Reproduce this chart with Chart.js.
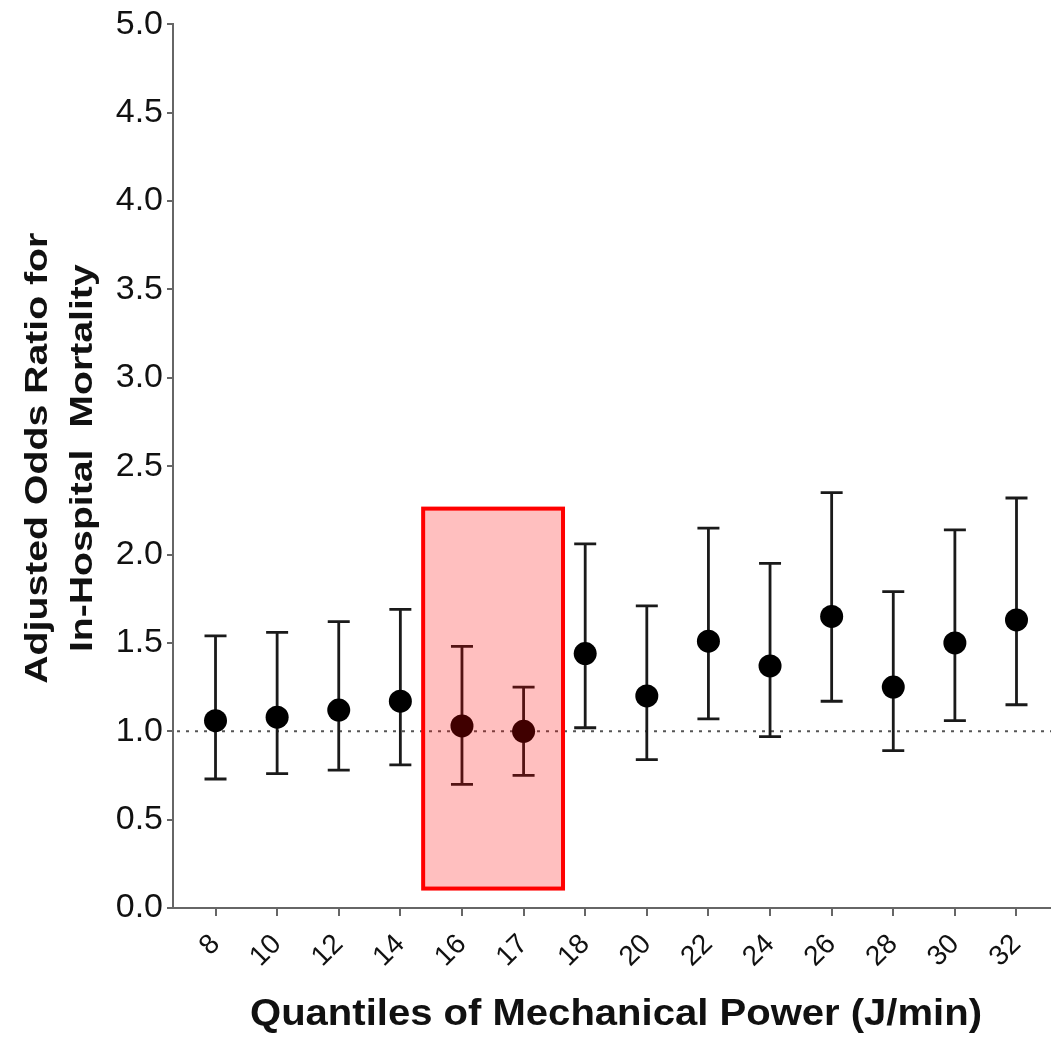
<!DOCTYPE html>
<html>
<head>
<meta charset="utf-8">
<script src="https://cdn.jsdelivr.net/npm/chart.js@4.4.0/dist/chart.umd.min.js"></script>
<style>
  html, body { margin: 0; padding: 0; background: #fff; }
  #wrap { width: 1051px; height: 1038px; position: relative; }
</style>
</head>
<body>
<div id="wrap"><canvas id="orChart" width="1051" height="1038"></canvas></div>
<script>
// quantile labels (J/min)
var categories = ['8', '10', '12', '14', '16', '17', '18', '20', '22', '24', '26', '28', '30', '32'];
// adjusted odds ratio and 95% CI
var oddsRatio = [1.06, 1.08, 1.12, 1.17, 1.03, 1.00, 1.44, 1.20, 1.51, 1.37, 1.65, 1.25, 1.50, 1.63];
var ciLower   = [0.73, 0.76, 0.78, 0.81, 0.70, 0.75, 1.02, 0.84, 1.07, 0.97, 1.17, 0.89, 1.06, 1.15];
var ciUpper   = [1.54, 1.56, 1.62, 1.69, 1.48, 1.25, 2.06, 1.71, 2.15, 1.95, 2.35, 1.79, 2.14, 2.32];
var yTicks = [0, 0.5, 1.0, 1.5, 2.0, 2.5, 3.0, 3.5, 4.0, 4.5, 5.0];
var referenceLine = 1.0;
// highlighted quantiles (red box)
var highlighted = ['16', '17'];
var highlightRange = [0.11, 2.26];

var FONT = '"Liberation Sans", Arial, sans-serif';

var errorBars = {
    id: 'errorBars',
    beforeDatasetsDraw: function(chart) {
        var ctx = chart.ctx, xs = chart.scales.x, ys = chart.scales.y, area = chart.chartArea;
        // dotted reference line at OR = 1
        var yr = ys.getPixelForValue(referenceLine);
        ctx.save();
        ctx.strokeStyle = '#555';
        ctx.lineWidth = 2;
        ctx.setLineDash([3, 6]);
        ctx.beginPath();
        ctx.moveTo(area.left + 4, yr);
        ctx.lineTo(area.right, yr);
        ctx.stroke();
        ctx.restore();

        ctx.save();
        ctx.strokeStyle = '#1a1a1a';
        ctx.lineWidth = 2.8;
        for (var i = 0; i < categories.length; i++) {
            var x = xs.getPixelForValue(i);
            var y0 = ys.getPixelForValue(ciLower[i]);
            var y1 = ys.getPixelForValue(ciUpper[i]);
            ctx.beginPath();
            ctx.moveTo(x, y0); ctx.lineTo(x, y1);
            ctx.moveTo(x - 11, y0); ctx.lineTo(x + 11, y0);
            ctx.moveTo(x - 11, y1); ctx.lineTo(x + 11, y1);
            ctx.stroke();
        }
        ctx.restore();
    },
    afterDatasetsDraw: function(chart) {
        var ctx = chart.ctx, xs = chart.scales.x, ys = chart.scales.y;
        var i0 = categories.indexOf(highlighted[0]);
        var i1 = categories.indexOf(highlighted[highlighted.length - 1]);
        var left = xs.getPixelForValue(i0 - 0.63);
        var right = xs.getPixelForValue(i1 + 0.64);
        var top = ys.getPixelForValue(highlightRange[1]);
        var bottom = ys.getPixelForValue(highlightRange[0]);
        ctx.save();
        ctx.fillStyle = 'rgba(255, 0, 0, 0.25)';
        ctx.fillRect(left, top, right - left, bottom - top);
        ctx.strokeStyle = '#ff0000';
        ctx.lineWidth = 4;
        ctx.strokeRect(left, top, right - left, bottom - top);
        ctx.restore();
    },
    afterDraw: function(chart) {
        var ctx = chart.ctx, area = chart.chartArea;
        ctx.save();
        ctx.fillStyle = '#111';
        ctx.textAlign = 'center';
        ctx.textBaseline = 'middle';

        // x axis title
        ctx.font = 'bold 37px ' + FONT;
        var t = 'Quantiles of Mechanical Power (J/min)';
        var sx = 732 / ctx.measureText(t).width;
        ctx.save();
        ctx.translate(616, 1015);
        ctx.scale(sx, 1);
        ctx.fillText(t, 0, 0);
        ctx.restore();

        // y axis title, two lines
        ctx.font = 'bold 31px ' + FONT;
        var l1 = 'Adjusted Odds Ratio for', l2 = 'In-Hospital  Mortality';
        var sy = 451 / ctx.measureText(l1).width;
        var cy = (area.top + area.bottom) / 2 - 8;
        [[l1, 38], [l2, 83]].forEach(function(l) {
            ctx.save();
            ctx.translate(l[1], cy);
            ctx.rotate(-Math.PI / 2);
            ctx.scale(sy, 1);
            ctx.fillText(l[0], 0, 0);
            ctx.restore();
        });
        ctx.restore();
    }
};

new Chart(document.getElementById('orChart'), {
    type: 'scatter',
    data: {
        datasets: [{
            data: oddsRatio.map(function(v, i) { return { x: i, y: v }; }),
            backgroundColor: '#000',
            borderWidth: 0,
            pointRadius: 11.5,
            pointHoverRadius: 11.5
        }]
    },
    options: {
        responsive: false,
        animation: false,
        events: [],
        layout: { autoPadding: false, padding: { top: 23, right: 0, left: 0, bottom: 0 } },
        plugins: {
            legend: { display: false },
            tooltip: { enabled: false }
        },
        scales: {
            x: {
                type: 'linear',
                min: -0.69,
                max: 13.56,
                afterBuildTicks: function(s) {
                    s.ticks = categories.map(function(c, i) { return { value: i }; });
                },
                afterFit: function(s) {
                    s.height = 130;
                    s.paddingLeft = 0;
                    s.paddingRight = 0;
                },
                ticks: {
                    callback: function(v) { return categories[v]; },
                    font: { family: FONT, size: 28 },
                    color: '#111',
                    minRotation: 45,
                    maxRotation: 45,
                    padding: 12
                },
                grid: { drawOnChartArea: false, drawTicks: true, tickLength: 8, color: '#666', lineWidth: 2 },
                border: { display: true, color: '#666', width: 2 }
            },
            y: {
                min: 0,
                max: 5,
                afterBuildTicks: function(s) {
                    s.ticks = yTicks.map(function(v) { return { value: v }; });
                },
                afterFit: function(s) { s.width = 173; },
                ticks: {
                    callback: function(v) { return v.toFixed(1); },
                    font: { family: FONT, size: 34 },
                    color: '#111',
                    padding: 4
                },
                grid: { drawOnChartArea: false, drawTicks: true, tickLength: 6, color: '#666', lineWidth: 2 },
                border: { display: true, color: '#666', width: 2 }
            }
        }
    },
    plugins: [errorBars]
});
</script>
</body>
</html>
